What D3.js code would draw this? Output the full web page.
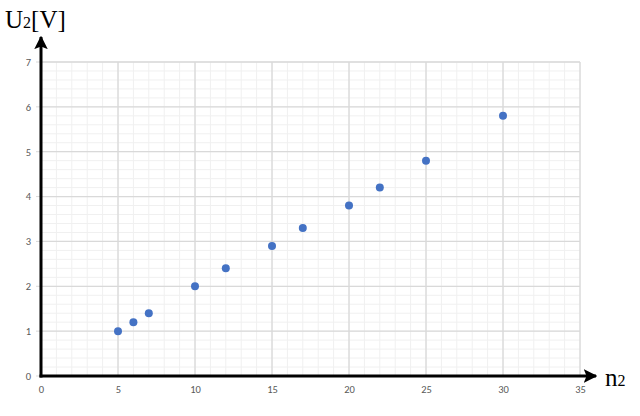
<!DOCTYPE html>
<html>
<head>
<meta charset="utf-8">
<script src="https://cdn.jsdelivr.net/npm/d3@7"></script>
<style>
  body { margin: 0; background: #fff; }
</style>
</head>
<body>
<script>
// turns n2 and measured voltage U2
const turns = [5, 6, 7, 10, 12, 15, 17, 20, 22, 25, 30];
const voltage = [1, 1.2, 1.4, 2, 2.4, 2.9, 3.3, 3.8, 4.2, 4.8, 5.8];
const xTicks = [0, 5, 10, 15, 20, 25, 30, 35];
const yTicks = [0, 1, 2, 3, 4, 5, 6, 7];

var width = 640, height = 416;
var plotLeft = 41, plotRight = 580, plotTop = 62, plotBottom = 376;

var svg = d3.select("body").append("svg")
  .attr("width", width)
  .attr("height", height);

var x = d3.scaleLinear().domain([0, 35]).range([plotLeft, plotRight]);
var y = d3.scaleLinear().domain([0, 7]).range([plotBottom, plotTop]);

// minor grid
var grid = svg.append("g").attr("class", "grid");
grid.selectAll("line.vminor")
  .data(d3.range(0, 35.01, 1))
  .enter().append("line")
  .attr("x1", d => x(d)).attr("x2", d => x(d))
  .attr("y1", plotTop).attr("y2", plotBottom)
  .attr("stroke", "#f0f0f0").attr("stroke-width", 1);
grid.selectAll("line.hminor")
  .data(d3.range(0, 7.001, 0.2))
  .enter().append("line")
  .attr("x1", plotLeft).attr("x2", plotRight)
  .attr("y1", d => y(d)).attr("y2", d => y(d))
  .attr("stroke", "#f0f0f0").attr("stroke-width", 1);

// major grid
grid.selectAll("line.vmajor")
  .data(xTicks)
  .enter().append("line")
  .attr("x1", d => x(d)).attr("x2", d => x(d))
  .attr("y1", plotTop).attr("y2", plotBottom)
  .attr("stroke", "#d9d9d9").attr("stroke-width", 1.3);
grid.selectAll("line.hmajor")
  .data(yTicks)
  .enter().append("line")
  .attr("x1", plotLeft).attr("x2", plotRight)
  .attr("y1", d => y(d)).attr("y2", d => y(d))
  .attr("stroke", "#d9d9d9").attr("stroke-width", 1.3);

// tick labels
var xAxis = svg.append("g")
  .attr("transform", "translate(0," + (plotBottom + 6) + ")")
  .call(d3.axisBottom(x).tickValues(xTicks).tickFormat(d3.format("d")).tickSize(0).tickPadding(4));
var yAxis = svg.append("g")
  .attr("transform", "translate(" + (plotLeft - 6) + ",0)")
  .call(d3.axisLeft(y).tickValues(yTicks).tickFormat(d3.format("d")).tickSize(0).tickPadding(4));
[xAxis, yAxis].forEach(function(a) {
  a.select(".domain").remove();
  a.selectAll("text")
    .attr("fill", "#595959")
    .style("font-family", "Carlito, 'Liberation Sans', sans-serif")
    .style("font-size", "10.5px");
});

// small outer tick marks on the y axis
svg.selectAll("line.ytick")
  .data(yTicks)
  .enter().append("line")
  .attr("x1", plotLeft - 5).attr("x2", plotLeft)
  .attr("y1", d => y(d)).attr("y2", d => y(d))
  .attr("stroke", "#d9d9d9");

// axis arrows
var defs = svg.append("defs");
defs.append("marker")
  .attr("id", "arrow")
  .attr("viewBox", "0 0 10 10")
  .attr("refX", 9).attr("refY", 5)
  .attr("markerWidth", 4.5).attr("markerHeight", 4.5)
  .attr("markerUnits", "strokeWidth")
  .attr("orient", "auto")
  .append("path")
  .attr("d", "M0,0 L10,5 L0,10 L2,5 Z")
  .attr("fill", "#000");

svg.append("line")
  .attr("x1", plotLeft).attr("y1", plotBottom + 1.5)
  .attr("x2", plotLeft).attr("y2", 37)
  .attr("stroke", "#000").attr("stroke-width", 3)
  .attr("marker-end", "url(#arrow)");
svg.append("line")
  .attr("x1", plotLeft - 1.5).attr("y1", plotBottom)
  .attr("x2", 596).attr("y2", plotBottom)
  .attr("stroke", "#000").attr("stroke-width", 3)
  .attr("marker-end", "url(#arrow)");

// points
svg.append("g").selectAll("circle")
  .data(turns.map((t, i) => [t, voltage[i]]))
  .enter().append("circle")
  .attr("cx", d => x(d[0]))
  .attr("cy", d => y(d[1]))
  .attr("r", 4)
  .attr("fill", "#4472c4");

// axis titles
var u = svg.append("text")
  .attr("x", 5).attr("y", 28)
  .style("font-family", "'Liberation Serif', 'DejaVu Serif', serif")
  .style("font-size", "25px")
  .attr("fill", "#000");
u.append("tspan").text("U");
u.append("tspan").style("font-size", "16px").text("2");
u.append("tspan").text("[V]");

var n = svg.append("text")
  .attr("x", 605).attr("y", 386)
  .style("font-family", "'Liberation Serif', 'DejaVu Serif', serif")
  .style("font-size", "25px")
  .attr("fill", "#000");
n.append("tspan").text("n");
n.append("tspan").style("font-size", "16px").text("2");
</script>
</body>
</html>
